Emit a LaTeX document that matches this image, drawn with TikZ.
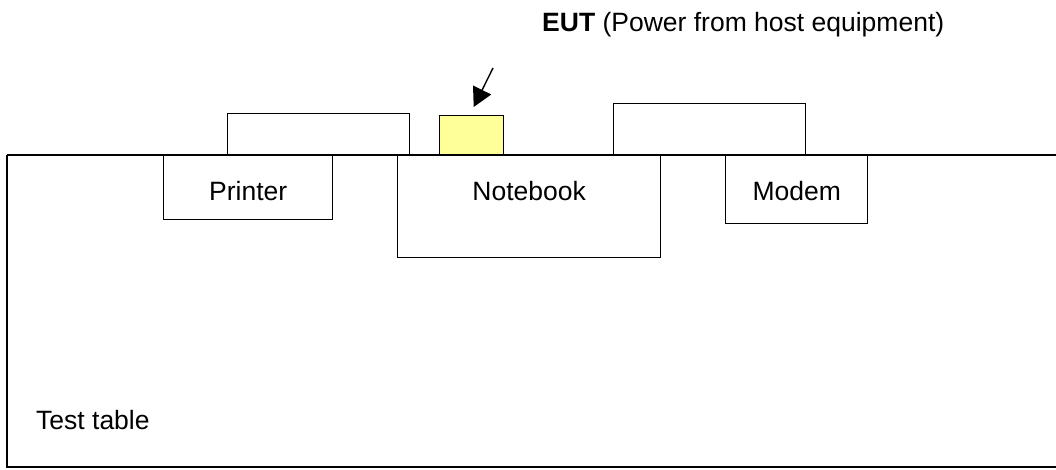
\documentclass[tikz,border=0pt]{standalone}
\usepackage{fontspec}
\setmainfont{Liberation Sans}
\usetikzlibrary{arrows.meta}
\definecolor{eutyellow}{HTML}{FFFF99}
\tikzset{
  box/.style={draw=black, line width=1.4pt, fill=white, rectangle, inner sep=0pt, anchor=north west},
  lbl/.style={font=\fontsize{26.5}{30}\selectfont, inner sep=0pt, anchor=base},
  tableline/.style={line width=1.5pt},
  toptableline/.style={line width=2.2pt},
  pointer/.style={line width=1.4pt, -{Triangle[length=19pt, width=20pt]}}
}
\begin{document}
\begin{tikzpicture}[x=1pt, y=-1pt]
\useasboundingbox (0,0) rectangle (1056,470);
% test table
\coordinate (tl) at (7,155);
\coordinate (bl) at (7,467);
\coordinate (br) at (1060,467);
\coordinate (tr) at (1060,155);
\draw[tableline] (tr |- bl) -- (bl) -- (tl);
% upper (back) boxes
\node[box, minimum width=182pt, minimum height=42pt] (backleft) at (227,113) {};
\node[box, minimum width=192pt, minimum height=52pt] (backright) at (613,103) {};
\node[box, fill=eutyellow, minimum width=64pt, minimum height=40pt] (eut) at (439,115) {};
\draw[toptableline] (tl) -- (tr);
% front boxes
\node[box, minimum width=169pt, minimum height=64pt] (printer) at (163,155) {};
\node[box, minimum width=263pt, minimum height=102pt] (notebook) at (397,155) {};
\node[box, minimum width=142pt, minimum height=68pt] (modem) at (725,155) {};
\node[lbl] (printerlbl) at (printer.north |- 0,201) {Printer};
\node[lbl] (notebooklbl) at (notebook.north |- 0,201) {Notebook};
\node[lbl] (modemlbl) at (modem.north |- 0,201) {Modem};
\node[lbl, anchor=base west] (tablelbl) at (36,429) {Test table};
\node[lbl, anchor=base west] (eutlbl) at (542,32) {\textbf{EUT} (Power from host equipment)};
% arrow
\coordinate (arrowstart) at (493,68);
\draw[pointer] (arrowstart) -- ([xshift=2pt, yshift=8pt]eut.north);
\end{tikzpicture}
\end{document}
